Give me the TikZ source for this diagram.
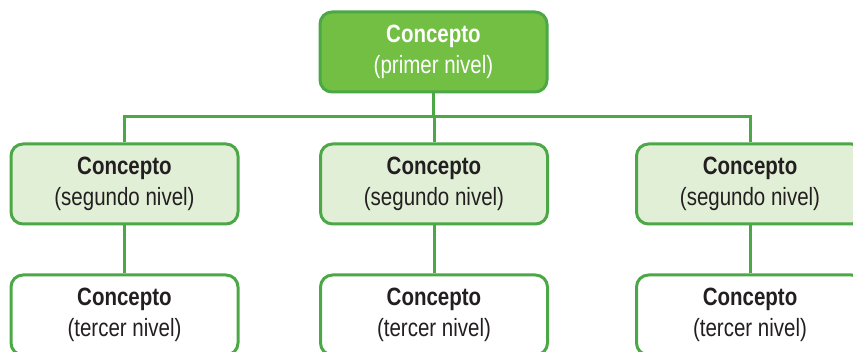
\documentclass[tikz,border=0pt]{standalone}
\usepackage{fontspec}
\setmainfont{Liberation Sans}[FakeStretch=0.82]
\definecolor{gborder}{HTML}{4CA846}
\definecolor{gdark}{HTML}{72BF44}
\definecolor{glight}{HTML}{E1EFD7}
\definecolor{tdark}{HTML}{231F20}
\begin{document}
\begin{tikzpicture}[x=1pt,y=-1pt,
  box/.style={draw=gborder, line width=3pt, rounded corners=12pt,
    minimum width=227pt, minimum height=80pt, inner sep=0pt,
    align=center, font=\fontsize{25}{31.5}\selectfont, text=tdark},
  lvlone/.style={box, fill=gdark, text=white},
  lvltwo/.style={box, fill=glight},
  lvlthree/.style={box, fill=white},
  conn/.style={draw=gborder, line width=3pt}]
\useasboundingbox (0,0) rectangle (853,352);
\coordinate (bus) at (433.5,117);
\node[lvlone] (top) at (433.5,52) {\textbf{Concepto}\\(primer nivel)};
\node[lvltwo] (s1) at (124.5,184) {\textbf{Concepto}\\(segundo nivel)};
\node[lvltwo] (s2) at (434,184) {\textbf{Concepto}\\(segundo nivel)};
\node[lvltwo] (s3) at (750,184) {\textbf{Concepto}\\(segundo nivel)};
\node[lvlthree] (t1) at (124.5,315) {\textbf{Concepto}\\(tercer nivel)};
\node[lvlthree] (t2) at (434,315) {\textbf{Concepto}\\(tercer nivel)};
\node[lvlthree] (t3) at (750,315) {\textbf{Concepto}\\(tercer nivel)};
\begin{scope}[on background layer/.try]
\end{scope}
\draw[conn] (top.south) -- (top.south|-bus);
\draw[conn] (s1.north) -- (s1.north|-bus) -- (s3.north|-bus) -- (s3.north);
\draw[conn] (s2.north|-bus) -- (s2.north);
\draw[conn] (s1.south) -- (t1.north);
\draw[conn] (s2.south) -- (t2.north);
\draw[conn] (s3.south) -- (t3.north);
\end{tikzpicture}
\end{document}
